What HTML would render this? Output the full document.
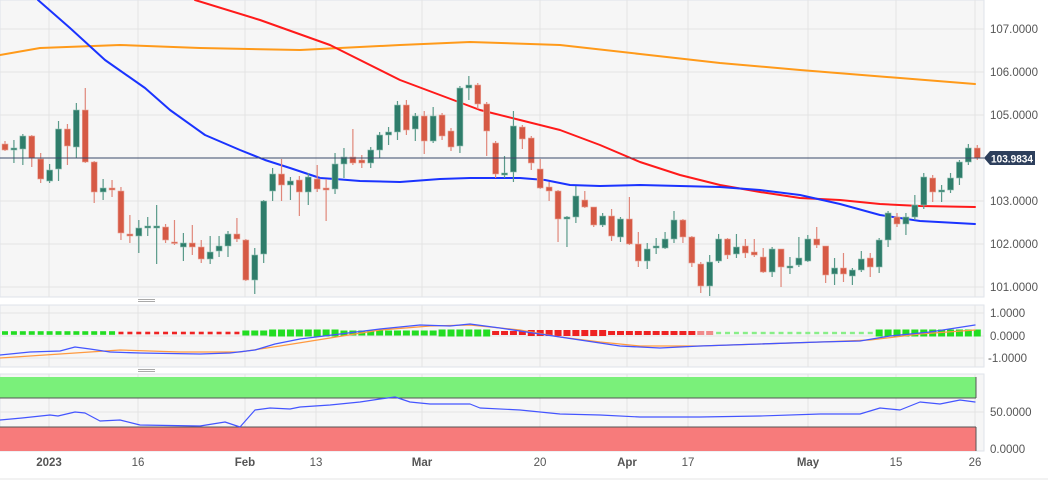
<!DOCTYPE html>
<html><head><meta charset="utf-8"><style>
html,body{margin:0;padding:0;background:#fff;}
svg{display:block;font-family:"Liberation Sans",sans-serif;}
polyline{stroke-linejoin:round;stroke-linecap:round;}
</style></head><body>
<svg id="s" width="1048" height="487" viewBox="0 0 1048 487" xmlns="http://www.w3.org/2000/svg">
<rect x="0" y="0" width="1048" height="487" fill="#fff"/>
<rect x="0" y="0" width="984" height="297" fill="#f6f6f6" stroke="#dfe3ea"/>
<rect x="0" y="305" width="984" height="62" fill="#f6f6f6" stroke="#dfe3ea"/>
<rect x="0" y="374" width="984" height="77" fill="#f6f6f6" stroke="#dfe3ea"/>
<g id="grid" stroke="#e4e4e4" stroke-width="1"></g>
<rect x="0" y="377" width="976" height="21" fill="#7af07a"/>
<line x1="0" y1="398" x2="976" y2="398" stroke="#555" stroke-width="1"/>
<line x1="976" y1="377" x2="976" y2="398" stroke="#555"/>
<rect x="0" y="427" width="976" height="24" fill="#f77b7b"/>
<line x1="0" y1="427" x2="976" y2="427" stroke="#555" stroke-width="1"/>
<line x1="976" y1="427" x2="976" y2="451" stroke="#555"/>
<g fill="#aaa"><rect x="138" y="299" width="17" height="1"/><rect x="138" y="301" width="17" height="1"/><rect x="138" y="369" width="17" height="1"/><rect x="138" y="371" width="17" height="1"/></g>
<polyline fill="none" stroke="#ff9a1a" stroke-width="2" points="0,55 40,48 120,45 200,48 300,50 400,45 470,42 560,45 640,54 720,63 800,70 900,78 975,84"/>
<polyline fill="none" stroke="#ff1a1a" stroke-width="2" points="195,0 260,20 330,45 400,80 480,110 520,120 560,130 600,145 640,162 680,175 720,185 760,192 800,198 840,200 880,204 920,206 975,207"/>
<polyline fill="none" stroke="#1a33ff" stroke-width="2" points="38,0 70,28 105,60 145,88 170,110 205,135 240,150 265,160 290,168 320,178 335,179 360,181 400,182 440,179 470,178 520,178 545,180 570,185 600,186 640,185 680,186 720,187 760,190 800,195 840,204 880,215 920,221 975,224"/>
<g id="candles"></g>
<line x1="0" y1="158" x2="984" y2="158" stroke="#3b4a6b" stroke-width="1"/>
<g id="hist"></g>
<polyline fill="none" stroke="#ff9a40" stroke-width="1.3" points="0,358 60,354 120,350 180,352 240,352 280,346 330,338 380,330 430,326 470,325 520,330 560,337 600,342 640,346 700,346 760,344 820,342 870,340 920,334 975,330"/>
<polyline fill="none" stroke="#4455ff" stroke-width="1.3" points="0,355 30,352 60,351 75,347 90,349 110,352 140,353 200,354 230,353 255,350 275,344 300,339 340,334 380,329 420,325 450,326 470,324 500,328 540,334 580,340 620,346 660,348 700,346 760,344 820,342 860,341 890,336 930,332 975,325"/>
<polyline fill="none" stroke="#4455ff" stroke-width="1.2" points="0,420 22,418 50,415 58,416 75,412 85,413 100,421 120,420 140,425 200,426 225,422 240,427 255,410 270,408 290,409 300,407 330,405 360,402 380,399 395,397 410,402 430,404 470,404 480,408 520,410 560,414 600,415 640,417 700,417 760,416 820,414 860,414 880,408 900,410 920,402 940,404 960,400 975,402"/>
<g fill="#555" font-size="11.5" id="axis">
<text x="990" y="33">107.0000</text><text x="990" y="76">106.0000</text><text x="990" y="119">105.0000</text>
<text x="990" y="205">103.0000</text><text x="990" y="248">102.0000</text><text x="990" y="291">101.0000</text>
<text x="990" y="317">1.0000</text><text x="990" y="340">0.0000</text><text x="988" y="362">-1.0000</text>
<text x="990" y="416">50.0000</text><text x="990" y="453">0.0000</text>
</g>
<polygon points="984,158 990,151 1035,151 1035,165 990,165" fill="#2d3f5c"/>
<text x="991" y="162.5" fill="#fff" font-size="11" font-weight="bold" textLength="42" lengthAdjust="spacingAndGlyphs">103.9834</text>
<g fill="#555" font-size="11.5" text-anchor="middle">
<text x="49" y="466" font-weight="bold">2023</text><text x="138" y="466">16</text><text x="245" y="466" font-weight="bold">Feb</text>
<text x="316" y="466">13</text><text x="422" y="466" font-weight="bold">Mar</text><text x="540" y="466">20</text>
<text x="627" y="466" font-weight="bold">Apr</text><text x="688" y="466">17</text><text x="808" y="466" font-weight="bold">May</text>
<text x="896" y="466">15</text><text x="975" y="466">26</text>
</g>
<line x1="0" y1="479" x2="1048" y2="479" stroke="#e4e4e4"/>
</svg>
<script>
var NS="http://www.w3.org/2000/svg";
function el(p,t,a){var e=document.createElementNS(NS,t);for(var k in a)e.setAttribute(k,a[k]);p.appendChild(e);return e;}
var g=document.getElementById('grid');
[29,72,115,158,201,244,287].forEach(function(y){el(g,'line',{x1:0,x2:984,y1:y,y2:y});});
[313,336,358].forEach(function(y){el(g,'line',{x1:0,x2:984,y1:y,y2:y});});
[412].forEach(function(y){el(g,'line',{x1:0,x2:984,y1:y,y2:y});});
[49,138,245,316,422,540,627,688,808,896,975].forEach(function(x){
 el(g,'line',{x1:x,x2:x,y1:0,y2:297});el(g,'line',{x1:x,x2:x,y1:305,y2:367});el(g,'line',{x1:x,x2:x,y1:374,y2:451});});
var C=[[0,144,150,141,151],[1,148,150,140,163],[1,136,149,134,165],[0,136,158,135,167],[0,159,179,153,183],[1,170,181,164,183],[1,129,169,121,181],[0,129,146,124,165],[1,110,147,103,158],[0,110,162,88,163],
[0,162,192,161,203],[1,188,192,179,200],[0,188,190,180,197],[0,191,233,187,240],[0,234,236,215,243],[1,228,236,220,253],[1,226,228,217,236],[1,226,228,205,264],[0,227,240,224,243],[0,242,243,220,245],
[1,243,247,233,261],[0,243,247,225,255],[0,247,259,240,263],[1,252,259,236,264],[1,246,251,236,257],[1,234,246,231,257],[0,234,239,218,242],[0,240,280,239,281],[1,255,280,248,294],[1,201,254,200,263],
[1,174,191,168,201],[0,174,185,159,201],[1,181,185,177,200],[0,180,192,176,216],[1,177,192,173,205],[0,179,189,165,192],[0,188,190,179,221],[1,164,189,153,194],[1,157,164,148,178],[0,157,163,129,165],
[0,160,163,155,168],[1,150,163,147,168],[1,135,150,132,158],[1,132,135,127,145],[1,105,132,101,140],[0,105,130,100,135],[1,116,129,113,141],[0,116,141,111,154],[1,116,141,107,143],[0,115,136,113,140],
[0,131,147,128,151],[1,88,146,86,153],[1,85,88,76,100],[0,85,104,83,109],[0,104,131,102,156],[0,143,174,141,178],[1,173,175,156,178],[1,126,172,111,182],[0,127,139,125,149],[0,138,163,136,170],
[0,169,188,159,189],[0,187,191,182,201],[0,191,219,190,242],[1,217,219,216,247],[1,196,217,186,223],[0,200,207,191,208],[0,207,225,207,227],[1,216,225,213,227],[0,216,236,209,241],[1,219,237,217,242],
[0,219,244,197,245],[0,244,261,232,267],[1,249,261,243,269],[1,246,248,238,254],[1,239,248,232,249],[1,220,239,211,243],[0,220,237,219,243],[0,237,263,236,267],[0,264,286,262,293],[1,262,286,255,296],
[1,239,261,234,263],[0,239,255,238,259],[1,247,254,234,258],[0,246,253,239,258],[0,252,255,239,257],[0,257,272,248,273],[1,249,272,247,277],[0,249,267,249,287],[1,266,268,257,274],[1,258,265,237,267],
[1,239,261,235,262],[0,239,245,227,248],[0,246,275,246,283],[1,268,274,258,285],[0,268,274,253,282],[1,270,276,268,285],[1,259,270,251,272],[0,258,267,253,277],[1,240,267,238,273],[1,213,240,211,247],
[0,217,224,213,227],[1,217,224,213,235],[1,205,217,195,220],[1,177,205,173,209],[0,178,192,175,202],[1,190,192,185,202],[1,178,190,173,193],[1,162,178,160,185],[1,148,162,144,165],[0,148,158,145,160]];
var cg=document.getElementById('candles');
C.forEach(function(c,i){var x=5+i*8.92;var col=c[0]?'#2f7d6b':'#d65a45';var wc=c[0]?'#5a9a8a':'#e0877a';
 el(cg,'line',{x1:x,x2:x,y1:c[3],y2:c[4],stroke:wc,'stroke-width':1.2});
 var h=Math.max(c[2]-c[1],1.5);el(cg,'rect',{x:x-3,y:c[1],width:6,height:h,fill:col,stroke:c[0]?'#8fc0b2':'#eba79c','stroke-width':0.6});});
var hg=document.getElementById('hist');
for(var i=0;i<110;i++){var x=5+i*8.92;var col,s,w=7;
 if(x<115){col='#22dd22';s=1.8;w=6;} else if(x<245){col='#ee2222';s=1.3;w=5;} else if(x<490){col='#22dd22';s=(x>270&&x<340)||(x>440)?3.5:2.5;}
 else if(x<715){col='#ee2222';s=(x>530&&x<610)?3:2;} else if(x<875){col='#88ee88';s=1.2;w=5;} else {col='#22dd22';s=3.5;}
 if(x>700&&x<715)col='#f08a8a';
 el(hg,'rect',{x:x-w/2,y:333-s,width:w,height:s*2,fill:col});}
</script>
</body></html>
